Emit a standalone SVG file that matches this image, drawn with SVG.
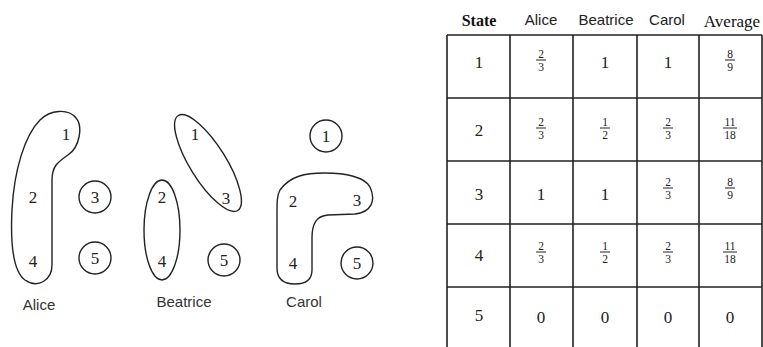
<svg xmlns="http://www.w3.org/2000/svg" width="763" height="347" viewBox="0 0 763 347">
<style>
.sh{fill:none;stroke:#222;stroke-width:1.4}
.n{font-family:"Liberation Serif",serif;font-size:17px;fill:#222;text-anchor:middle}
.lb{font-family:"Liberation Sans",sans-serif;font-size:15px;fill:#333;text-anchor:middle}
.hs{font-family:"Liberation Sans",sans-serif;font-size:15px;fill:#222;text-anchor:middle}
.hr{font-family:"Liberation Serif",serif;font-size:16px;fill:#111;text-anchor:middle}
.t{font-family:"Liberation Serif",serif;font-size:17px;fill:#222;text-anchor:middle}
.f{font-family:"Liberation Serif",serif;font-size:11.5px;fill:#222;text-anchor:middle}
.g{stroke:#222;stroke-width:1.6;fill:none}
.fl{stroke:#222;stroke-width:1}
</style>
<rect width="763" height="347" fill="#fff"/>
<g id="alice">
<path class="sh" d="M52,265 L52,180 C52,166 58,162 68,155 C80,147 83,126 76,118 C68,108 50,110 40,120 C25,135 14,170 12,210 C10,250 14,272 25,280 C38,289 52,280 52,265 Z"/>
<text class="n" x="66" y="140">1</text>
<text class="n" x="33" y="203">2</text>
<text class="n" x="33" y="267">4</text>
<circle class="sh" cx="95" cy="197" r="16"/>
<text class="n" x="95" y="203">3</text>
<circle class="sh" cx="95" cy="258" r="16"/>
<text class="n" x="95" y="264">5</text>
<text class="lb" x="39" y="310">Alice</text>
</g>
<g id="beatrice">
<ellipse class="sh" cx="208" cy="163" rx="56" ry="18" transform="rotate(58 208 163)"/>
<text class="n" x="195" y="140">1</text>
<text class="n" x="226" y="204">3</text>
<ellipse class="sh" cx="162" cy="230" rx="18" ry="50"/>
<text class="n" x="162" y="203">2</text>
<text class="n" x="162" y="267">4</text>
<circle class="sh" cx="224" cy="260" r="16"/>
<text class="n" x="224" y="266">5</text>
<text class="lb" x="184" y="307">Beatrice</text>
</g>
<g id="carol">
<circle class="sh" cx="326" cy="136" r="16"/>
<text class="n" x="326" y="142">1</text>
<path class="sh" d="M280,190 C290,176 305,173 325,173 C345,173 365,177 370,187 C376,200 372,212 355,214 L328,215 C316,216 312,224 312,238 L312,270 C312,280 305,284 295,284 C282,284 277,278 277,268 L277,215 C277,202 277,195 280,190 Z"/>
<text class="n" x="293" y="207">2</text>
<text class="n" x="357" y="206">3</text>
<text class="n" x="293" y="269">4</text>
<circle class="sh" cx="357" cy="263" r="16"/>
<text class="n" x="357" y="269">5</text>
<text class="lb" x="304" y="307">Carol</text>
</g>
<g id="table">
<text class="hr" x="479" y="26" style="font-weight:bold">State</text>
<text class="hs" x="541" y="25">Alice</text>
<text class="hs" x="606" y="25">Beatrice</text>
<text class="hs" x="667" y="25">Carol</text>
<text class="hr" x="732" y="27" style="font-size:17px">Average</text>
<path class="g" d="M447,35 H762 M447,98 H762 M447,161 H762 M447,224 H762 M447,287 H762 M447,35 V347 M510,35 V347 M573,35 V347 M637,35 V347 M699,35 V347 M762,35 V347"/>
<!-- row 1 -->
<text class="t" x="479" y="68">1</text>
<text class="f" x="541" y="58">2</text><line class="fl" x1="536" y1="60" x2="546" y2="60"/><text class="f" x="541" y="71">3</text>
<text class="t" x="605" y="68">1</text>
<text class="t" x="668" y="68">1</text>
<text class="f" x="730" y="58">8</text><line class="fl" x1="725" y1="60" x2="735" y2="60"/><text class="f" x="730" y="71">9</text>
<!-- row 2 -->
<text class="t" x="479" y="136">2</text>
<text class="f" x="541" y="126">2</text><line class="fl" x1="536" y1="128" x2="546" y2="128"/><text class="f" x="541" y="139">3</text>
<text class="f" x="605" y="126">1</text><line class="fl" x1="600" y1="128" x2="610" y2="128"/><text class="f" x="605" y="139">2</text>
<text class="f" x="668" y="126">2</text><line class="fl" x1="663" y1="128" x2="673" y2="128"/><text class="f" x="668" y="139">3</text>
<text class="f" x="730" y="126">11</text><line class="fl" x1="723" y1="128" x2="737" y2="128"/><text class="f" x="730" y="139">18</text>
<!-- row 3 -->
<text class="t" x="479" y="200">3</text>
<text class="t" x="541" y="200">1</text>
<text class="t" x="605" y="200">1</text>
<text class="f" x="668" y="186">2</text><line class="fl" x1="663" y1="188" x2="673" y2="188"/><text class="f" x="668" y="199">3</text>
<text class="f" x="730" y="186">8</text><line class="fl" x1="725" y1="188" x2="735" y2="188"/><text class="f" x="730" y="199">9</text>
<!-- row 4 -->
<text class="t" x="479" y="261">4</text>
<text class="f" x="541" y="250">2</text><line class="fl" x1="536" y1="252" x2="546" y2="252"/><text class="f" x="541" y="263">3</text>
<text class="f" x="605" y="250">1</text><line class="fl" x1="600" y1="252" x2="610" y2="252"/><text class="f" x="605" y="263">2</text>
<text class="f" x="668" y="250">2</text><line class="fl" x1="663" y1="252" x2="673" y2="252"/><text class="f" x="668" y="263">3</text>
<text class="f" x="730" y="250">11</text><line class="fl" x1="723" y1="252" x2="737" y2="252"/><text class="f" x="730" y="263">18</text>
<!-- row 5 -->
<text class="t" x="479" y="321">5</text>
<text class="t" x="541" y="323">0</text>
<text class="t" x="605" y="323">0</text>
<text class="t" x="668" y="323">0</text>
<text class="t" x="730" y="323">0</text>
</g>
</svg>
